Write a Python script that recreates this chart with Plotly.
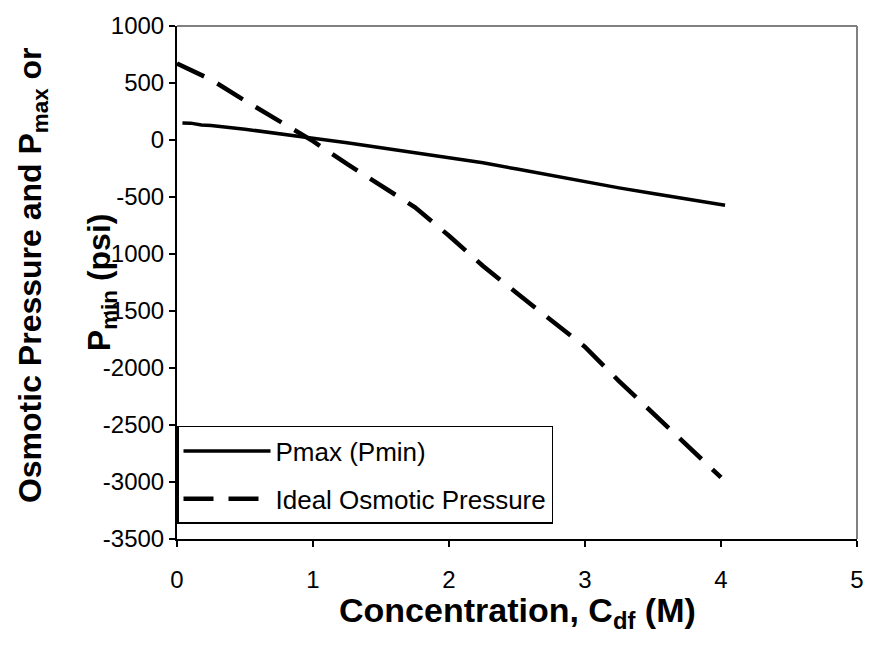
import plotly.graph_objects as go

# Data
conc_pmax = [0.04, 0.10, 0.18, 0.25, 0.50, 0.75, 1.00, 1.25, 1.50, 1.75, 2.00,
             2.25, 2.50, 2.75, 3.00, 3.25, 3.50, 3.75, 4.03]
pmax_vals = [150, 148, 132, 128, 95, 58, 15, -25, -70, -115, -162,
             -200, -255, -312, -368, -420, -470, -520, -572]

conc_ideal = [0.00, 0.25, 0.50, 0.75, 1.00, 1.25, 1.50, 1.75, 2.00,
              2.25, 2.50, 2.75, 3.00, 3.25, 3.50, 3.75, 4.00]
ideal_vals = [670, 530, 345, 165, -10, -210, -405, -590, -840,
              -1105, -1345, -1580, -1815, -2115, -2400, -2680, -2960]

y_tickvals = [1000, 500, 0, -500, -1000, -1500, -2000, -2500, -3000, -3500]
y_ticktext = ["1000", "500", "0", "-500", "-1000", "-1500", "-2000", "-2500", "-3000", "-3500"]
x_tickvals = [0, 1, 2, 3, 4, 5]
x_ticktext = ["0", "1", "2", "3", "4", "5"]

FONT = "Liberation Sans, Arial, sans-serif"

fig = go.Figure()
fig.add_trace(go.Scatter(
    x=conc_pmax, y=pmax_vals, mode="lines", name="Pmax (Pmin)",
    legendgroup="a",
    line=dict(color="black", width=3.5),
))
fig.add_trace(go.Scatter(
    x=conc_ideal, y=ideal_vals, mode="lines", name="Ideal Osmotic Pressure",
    legendgroup="b",
    line=dict(color="black", width=4.5, dash="30px,15px"),
))

W, H = 876, 647
L, R, T, B = 177, 13, 17, 108
PW, PH = W - L - R, H - T - B

fig.update_layout(
    width=W, height=H,
    margin=dict(l=L, r=R, t=T, b=B),
    paper_bgcolor="white", plot_bgcolor="white",
    font=dict(family=FONT, size=24, color="black"),
    showlegend=True,
    legend=dict(
        x=0, y=(539 - 424) / PH, xanchor="left", yanchor="top",
        bgcolor="white", bordercolor="black", borderwidth=1.5,
        font=dict(family=FONT, size=26, color="black"),
        itemwidth=87, tracegroupgap=11,
    ),
    xaxis=dict(
        range=[0, 5], tickvals=x_tickvals, ticktext=x_ticktext,
        showgrid=False, zeroline=False,
        showline=True, linecolor="black", linewidth=2,
        ticks="outside", ticklen=6, tickwidth=2, tickcolor="black",
        tickfont=dict(family=FONT, size=24),
        ticklabelstandoff=12,
    ),
    yaxis=dict(
        range=[-3500, 1000], tickvals=y_tickvals, ticktext=y_ticktext,
        showgrid=False, zeroline=False,
        showline=True, linecolor="black", linewidth=2,
        ticks="outside", ticklen=6, tickwidth=2, tickcolor="black",
        tickfont=dict(family=FONT, size=24),
    ),
    shapes=[
        dict(type="line", xref="paper", yref="paper", x0=0, x1=1, y0=1, y1=1,
             line=dict(color="#808080", width=2)),
        dict(type="line", xref="paper", yref="paper", x0=1, x1=1, y0=0, y1=1,
             line=dict(color="#808080", width=2)),
    ],
    annotations=[
        dict(text="<b>Concentration, C<sub>df</sub> (M)</b>",
             xref="paper", yref="paper", x=0.5, y=(539 - 614) / PH,
             xanchor="center", yanchor="middle", showarrow=False,
             font=dict(family=FONT, size=34, color="black")),
        dict(text="<b>Osmotic Pressure and P<sub>max</sub> or</b>",
             xref="paper", yref="paper", x=(32 - L) / PW, y=0.515,
             xanchor="center", yanchor="middle", textangle=-90, showarrow=False,
             font=dict(family=FONT, size=32, color="black")),
        dict(text="<b>P<sub>min</sub> (psi)</b>",
             xref="paper", yref="paper", x=(101 - L) / PW, y=0.5,
             xanchor="center", yanchor="middle", textangle=-90, showarrow=False,
             font=dict(family=FONT, size=32, color="black")),
    ],
)

fig.write_html("out.html")
